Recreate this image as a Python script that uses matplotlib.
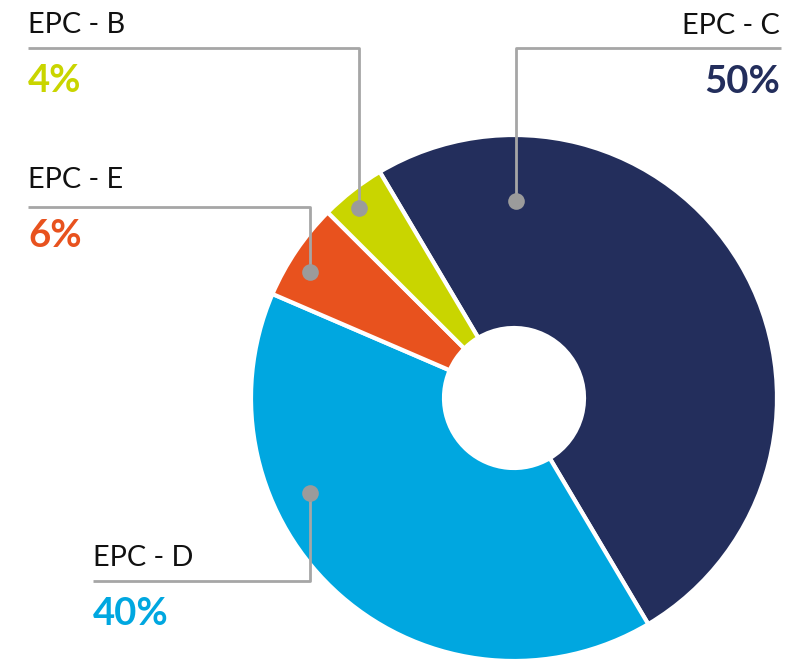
import matplotlib.pyplot as plt

# data
labels = ["EPC - C", "EPC - D", "EPC - E", "EPC - B"]
shares = [50, 40, 6, 4]
colors = ["#232e5c", "#00a7e0", "#e8521e", "#c9d500"]

W, H = 798, 664
fig = plt.figure(figsize=(W / 100, H / 100), dpi=100)
ax = fig.add_axes([0, 0, 1, 1])

# donut, drawn in pixel units (y up)
cx, cy = 514, H - 398
r_out, r_in = 263, 70
ax.pie(shares, colors=colors, startangle=120.7, counterclock=False,
       radius=r_out, center=(cx, cy),
       wedgeprops=dict(width=r_out - r_in, edgecolor="white", linewidth=3))

ax.set_xlim(0, W)
ax.set_ylim(0, H)
ax.set_aspect("equal")
ax.axis("off")

# callouts: (dot x, dot y, elbow y, text x, text y, align)
callouts = {
    "EPC - C": (516, 201, 48, 780, 34, "right"),
    "EPC - D": (310, 493, 581, 93, 566, "left"),
    "EPC - E": (310, 272, 207, 28, 188, "left"),
    "EPC - B": (359, 208, 48, 28, 33, "left"),
}

line_col = "#a6a6a6"
for lab, val, col in zip(labels, shares, colors):
    dx, dy, ey, tx, ty, ha = callouts[lab]
    end_x = tx + (1 if ha == "right" else 0)
    ax.plot([dx, dx, end_x], [H - dy, H - ey, H - ey], color=line_col,
            lw=2, solid_capstyle="butt", zorder=3)
    ax.plot(dx, H - dy, "o", ms=12, color="#9b9b9b", mec="none", zorder=4)
    ax.text(tx, H - ty, lab, ha=ha, va="baseline", fontsize=20.8,
            family="Lato", weight="normal", color="#111111")
    ax.text(tx, H - ty - 59, f"{val}%", ha=ha, va="baseline", fontsize=27.5,
            family="Lato", weight="bold", color=col)

fig.savefig("out.png", dpi=100)
